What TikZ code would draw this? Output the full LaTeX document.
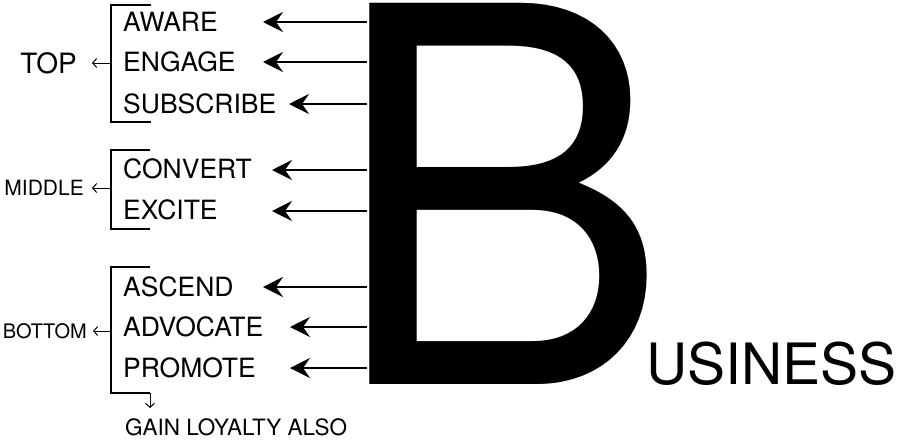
\documentclass[tikz,border=0pt]{standalone}
\usepackage{fontspec}
\setmainfont{TeX Gyre Heros}
\newfontfamily\bigletterfont[FakeStretch=0.975]{TeX Gyre Heros}
\usepackage{tikz}
\usetikzlibrary{arrows.meta, calc}
\tikzset{
  stage/.style={
    font=\fontsize{26.5}{30}\selectfont,
    anchor=west,
    inner sep=0pt
  },
  level/.style={
    font=\fontsize{20.5}{24}\selectfont,
    anchor=east,
    inner sep=0pt
  },
  bracket/.style={line width=1.6pt},
  pull arrow/.style={
    -{Stealth[length=20pt, width=20pt, inset=7pt]},
    line width=1.8pt
  },
  tick arrow/.style={
    -{Straight Barb[length=4pt, width=9pt]},
    line width=1pt
  }
}

\begin{document}
\begin{tikzpicture}[x=1pt, y=-1pt]
  \useasboundingbox (0,0) rectangle (899,442);

  % Big letter
  \node[font=\bigletterfont\fontsize{523}{523}\selectfont, anchor=base west, inner sep=0pt] (B) at (329,384) {B};
  \node[font=\fontsize{57}{60}\selectfont, anchor=base west, inner sep=0pt] (usiness) at (646,384) {USINESS};
  \coordinate (stem) at (367,0);

  % Stages
  \node[stage] (aware) at (123,22) {AWARE};
  \node[stage] (engage) at (123,62) {ENGAGE};
  \node[stage] (subscribe) at (123,104) {SUBSCRIBE};
  \node[stage] (convert) at (123,169) {CONVERT};
  \node[stage] (excite) at (123,210) {EXCITE};
  \node[stage] (ascend) at (123,287) {ASCEND};
  \node[stage] (advocate) at (123,327) {ADVOCATE};
  \node[stage] (promote) at (123,368) {PROMOTE};

  % Arrow tips
  \coordinate (aware tip) at (263,22);
  \coordinate (engage tip) at (263,62);
  \coordinate (subscribe tip) at (289,104);
  \coordinate (convert tip) at (272,170);
  \coordinate (excite tip) at (272,211);
  \coordinate (ascend tip) at (263,287);
  \coordinate (advocate tip) at (290,327);
  \coordinate (promote tip) at (290,368);

  % Arrows out of the B
  \draw[pull arrow] (stem |- aware tip) -- (aware tip);
  \draw[pull arrow] (stem |- engage tip) -- (engage tip);
  \draw[pull arrow] (stem |- subscribe tip) -- (subscribe tip);
  \draw[pull arrow] (stem |- convert tip) -- (convert tip);
  \draw[pull arrow] (stem |- excite tip) -- (excite tip);
  \draw[pull arrow] (stem |- ascend tip) -- (ascend tip);
  \draw[pull arrow] (stem |- advocate tip) -- (advocate tip);
  \draw[pull arrow] (stem |- promote tip) -- (promote tip);

  % Levels
  \node[level, font=\fontsize{28}{30}\selectfont] (top) at (77,63) {TOP};
  \node[level, font=\fontsize{21}{24}\selectfont] (middle) at (84,188) {MIDDLE};
  \node[level, font=\fontsize{20}{24}\selectfont] (bottom) at (87,331) {BOTTOM};
  \node[font=\fontsize{22.5}{26}\selectfont, anchor=base west, inner sep=0pt] (loyalty) at (125,435) {GAIN LOYALTY ALSO};

  % Brackets
  \draw[bracket] (151,5) -- (111,5) -- (111,122) -- (151,122);
  \draw[bracket] (150,150) -- (111,150) -- (111,229) -- (150,229);
  \draw[bracket] (150,267) -- (111,267) -- (111,393) -- (150,393) coordinate (bottom end);
  \coordinate (top mid) at (111,63);
  \coordinate (middle mid) at (111,188);
  \coordinate (bottom mid) at (111,331);

  % Small arrows
  \draw[tick arrow, shorten >=15pt] (top mid) -- (top.east);
  \draw[tick arrow, shorten >=8pt] (middle mid) -- (middle.east);
  \draw[tick arrow, shorten >=6pt] (bottom mid) -- (bottom.east);
  \draw[tick arrow, shorten >=10pt] (bottom end) -- (bottom end |- loyalty.north);
\end{tikzpicture}
\end{document}
